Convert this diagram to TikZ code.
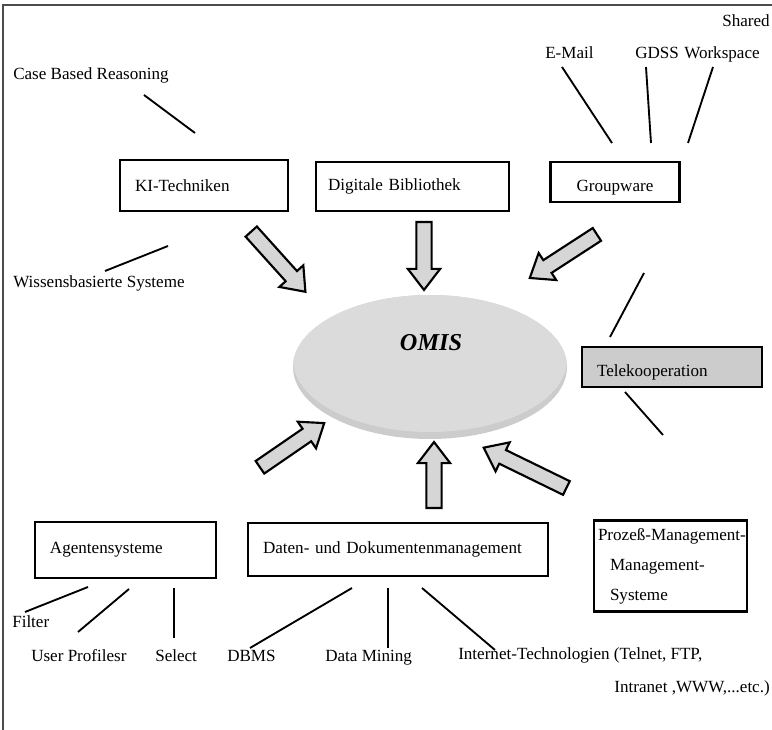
\documentclass[tikz,border=0pt]{standalone}
\usepackage{fontspec}
\setmainfont{Liberation Serif}
\usetikzlibrary{shapes.arrows, shapes.geometric}

\begin{document}
\begin{tikzpicture}[x=0.75pt, y=-0.75pt, font=\fontsize{12.8}{15}\selectfont,
    box/.style={draw, line width=1.8pt, inner ysep=0pt, align=left},
    lbl/.style={inner sep=0pt, anchor=base west},
    ln/.style={line width=1.4pt},
    bigarrow/.style={single arrow, draw, line width=1.6pt, fill=black!16, inner xsep=0pt, inner ysep=4.9pt,
        minimum width=22.5pt, single arrow head extend=6.4pt, single arrow tip angle=75}]

\useasboundingbox (0,0) rectangle (772,730);
\draw[line width=0.8pt, black!70] (3,730) -- (3,5) -- (772,5);

% OMIS
\node[ellipse, fill=black!20, minimum width=205.5pt, minimum height=108pt] (omis) at (430,367) {};
\begin{scope}
  \clip (430,367) ellipse [x radius=137, y radius=72];
  \fill[black!14] (430,360) ellipse [x radius=137, y radius=72];
\end{scope}
\node[font=\fontsize{18.2}{20}\selectfont\bfseries\itshape] (omistext) at (431,343) {OMIS};

% boxes
\node[box, minimum width=126pt, minimum height=38.25pt, text width=103.5pt, inner xsep=11.25pt]
    (ki) at (204,185.5) {KI-Techniken};
\node[box, minimum width=144.75pt, minimum height=36.75pt, text width=126.75pt, inner xsep=9pt]
    (dig) at (412.5,186.5) {Digitale Bibliothek};
\node[box, minimum width=96.75pt, minimum height=30pt, align=center, text height=15pt, text depth=0pt]
    (gw) at (615,182) {Groupware};
\node[box, fill=black!20, minimum width=135pt, minimum height=30pt, text width=112.5pt, inner xsep=11.25pt,
    text height=15pt, text depth=0pt]
    (tele) at (672,367) {Telekooperation};
\node[box, minimum width=135.75pt, minimum height=42pt, text width=113.25pt, inner xsep=11.25pt]
    (agent) at (125.5,550) {Agentensysteme};
\node[box, minimum width=225pt, minimum height=39.75pt, text width=202.5pt, inner xsep=11.25pt]
    (daten) at (398,549.5) {Daten- und Dokumentenmanagement};
\node[box, minimum width=114.75pt, minimum height=68.25pt, text width=108.75pt, inner xsep=3pt,
    font=\fontsize{12.8}{22.5}\selectfont]
    (proz) at (670.5,566) {\mbox{Prozeß-Management-}\\\hspace*{9pt}Management-\\\hspace*{9pt}Systeme};

% block arrows to OMIS
\node[bigarrow, minimum height=60.75pt, rotate=-48] (kiarr) at (275,258) {};
\node[bigarrow, minimum height=51pt, rotate=-90] (digarr) at (424,251) {};
\node[bigarrow, minimum height=60pt, rotate=-147] (gwarr) at (567.5,253.5) {};
\node[bigarrow, minimum height=58.5pt, rotate=34.5] (agarr) at (288,448) {};
\node[bigarrow, minimum height=49.5pt, rotate=90] (datarr) at (434,480) {};
\node[bigarrow, minimum height=69pt, rotate=154] (prozarr) at (529.5,470) {};

% labels
\node[lbl, anchor=base east] (shared) at (770,27) {Shared};
\node[lbl] (email) at (545,59) {E-Mail};
\node[lbl] (gdss) at (635,59) {GDSS};
\node[lbl] (wspace) at (684,59) {Workspace};
\node[lbl] (cbr) at (13,80) {Case Based Reasoning};
\node[lbl] (wbs) at (13,288) {Wissensbasierte Systeme};
\node[lbl] (filter) at (12,628) {Filter};
\node[lbl] (userp) at (31,662) {User Profilesr};
\node[lbl] (select) at (155,662) {Select};
\node[lbl] (dbms) at (227,662) {DBMS};
\node[lbl] (dmining) at (325,662) {Data Mining};
\node[lbl] (inet) at (458,660) {Internet-Technologien (Telnet, FTP,};
\node[lbl, anchor=base east] (intra) at (770,693) {Intranet ,WWW,...etc.)};

% line ends
\coordinate (cbr-a) at (144,95);   \coordinate (cbr-b) at (195,133);
\coordinate (wbs-a) at (105,271);  \coordinate (wbs-b) at (168,246);
\coordinate (email-a) at (562,67); \coordinate (email-b) at (612,143);
\coordinate (gdss-a) at (646,67);  \coordinate (gdss-b) at (651,143);
\coordinate (wsp-a) at (713,67);   \coordinate (wsp-b) at (688,143);
\coordinate (tele-a) at (610,337); \coordinate (tele-b) at (644,273);
\coordinate (tele-c) at (625,392); \coordinate (tele-d) at (663,435);
\coordinate (filt-a) at (25,612);  \coordinate (filt-b) at (88,587);
\coordinate (usr-a) at (78,632);   \coordinate (usr-b) at (129,589);
\coordinate (sel-a) at (174,638);  \coordinate (sel-b) at (174,588);
\coordinate (dbms-a) at (250,648); \coordinate (dbms-b) at (352,588);
\coordinate (dm-a) at (388,648);   \coordinate (dm-b) at (388,588);
\coordinate (inet-a) at (495,650); \coordinate (inet-b) at (422,588);

\draw[ln] (cbr-a) -- (cbr-b);
\draw[ln] (wbs-a) -- (wbs-b);
\draw[ln] (email-a) -- (email-b);
\draw[ln] (gdss-a) -- (gdss-b);
\draw[ln] (wsp-a) -- (wsp-b);
\draw[ln] (tele-a) -- (tele-b);
\draw[ln] (tele-c) -- (tele-d);
\draw[ln] (filt-a) -- (filt-b);
\draw[ln] (usr-a) -- (usr-b);
\draw[ln] (sel-a) -- (sel-b);
\draw[ln] (dbms-a) -- (dbms-b);
\draw[ln] (dm-a) -- (dm-b);
\draw[ln] (inet-a) -- (inet-b);

\end{tikzpicture}
\end{document}
